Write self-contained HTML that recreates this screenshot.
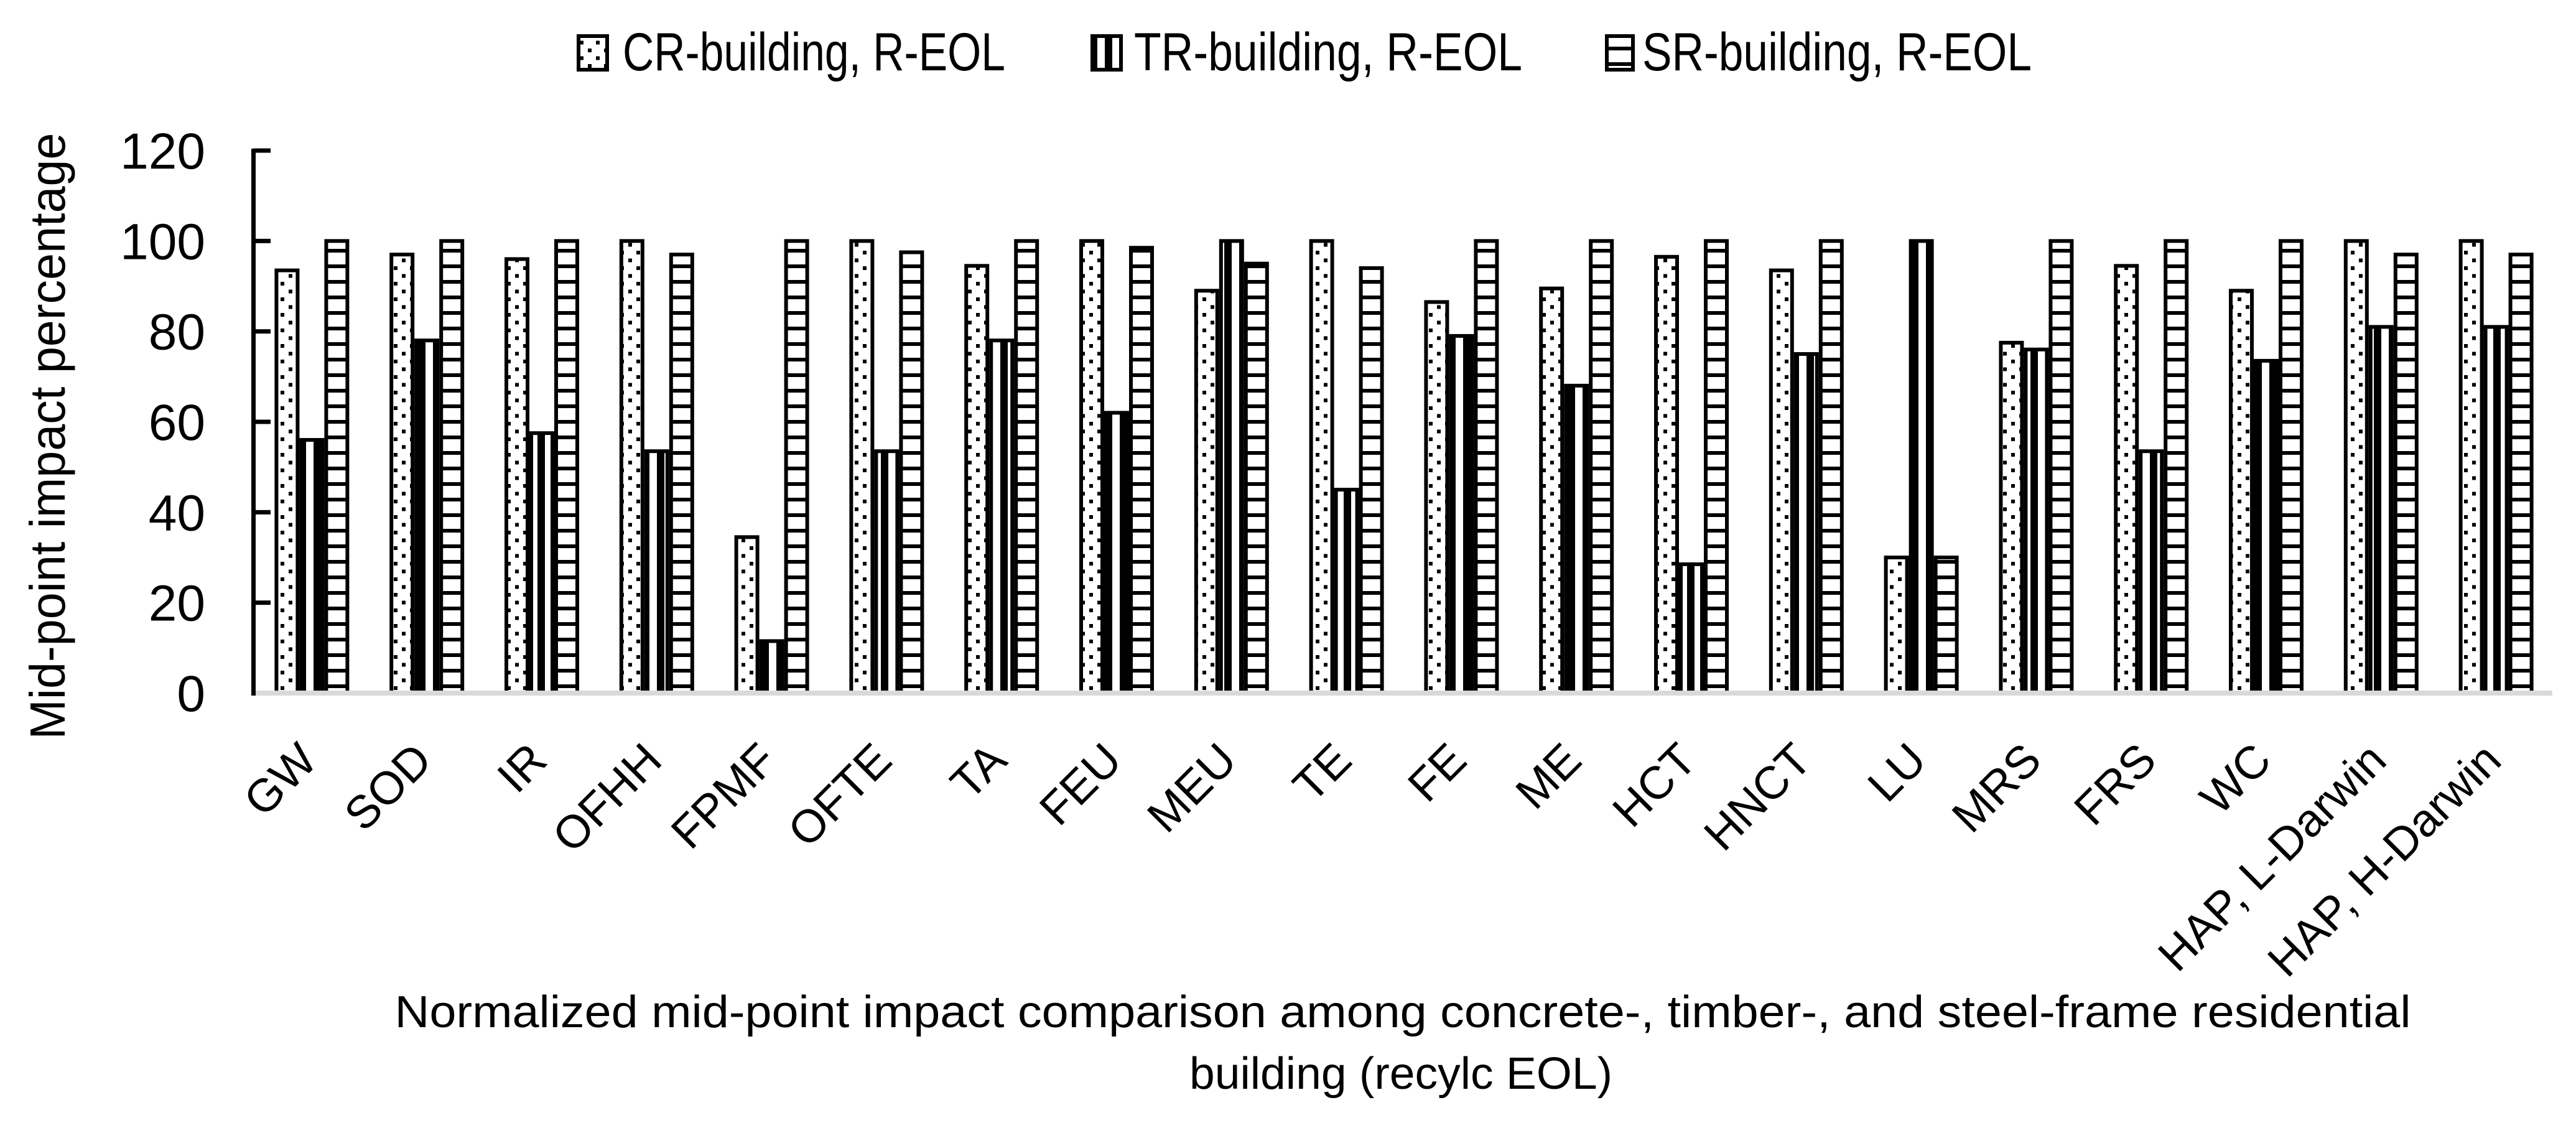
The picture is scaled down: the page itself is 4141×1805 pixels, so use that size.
<!DOCTYPE html>
<html><head><meta charset="utf-8"><style>
html,body{margin:0;padding:0;background:#fff;}
svg{display:block;}
text{font-family:"Liberation Sans",sans-serif;fill:#000;}
</style></head><body>
<svg id="chart" xmlns="http://www.w3.org/2000/svg" width="4141" height="1805" viewBox="0 0 4141 1805">
<defs>
<pattern id="pDots" patternUnits="userSpaceOnUse" width="26" height="25"><rect width="26" height="25" fill="#fff"/><rect x="9" y="3" width="6" height="6" fill="#000"/><rect x="22" y="15.5" width="6" height="6" fill="#000"/><rect x="-4" y="15.5" width="6" height="6" fill="#000"/></pattern>
<pattern id="pVert" patternUnits="userSpaceOnUse" width="24" height="24"><rect width="24" height="24" fill="#fff"/><rect x="0" y="0" width="12" height="24" fill="#000"/></pattern>
<pattern id="pHorz" patternUnits="userSpaceOnUse" width="24" height="25"><rect width="24" height="25" fill="#fff"/><rect x="0" y="0" width="24" height="6" fill="#000"/></pattern>
</defs>
<g id="legend">
 <g><rect x="930" y="58" width="46" height="54" fill="url(#pDots)" stroke="#000" stroke-width="6"/><text x="1001" y="113" font-size="86" textLength="615" lengthAdjust="spacingAndGlyphs">CR-building, R-EOL</text></g>
 <g><rect x="1756" y="58" width="46" height="54" fill="url(#pVert)" stroke="#000" stroke-width="6"/><text x="1823" y="113" font-size="86" textLength="624" lengthAdjust="spacingAndGlyphs">TR-building, R-EOL</text></g>
 <g><rect x="2583" y="58" width="42" height="54" fill="url(#pHorz)" stroke="#000" stroke-width="6"/><text x="2640" y="113" font-size="86" textLength="626" lengthAdjust="spacingAndGlyphs">SR-building, R-EOL</text></g>
</g>
<text transform="translate(104,701) rotate(-90)" text-anchor="middle" font-size="80" textLength="975" lengthAdjust="spacingAndGlyphs">Mid-point impact percentage</text>
<text x="2255" y="1651" text-anchor="middle" font-size="72" textLength="3241" lengthAdjust="spacingAndGlyphs">Normalized mid-point impact comparison among concrete-, timber-, and steel-frame residential</text>
<text x="2252" y="1750" text-anchor="middle" font-size="72" textLength="680" lengthAdjust="spacingAndGlyphs">building (recylc EOL)</text>
<g id="bars"></g>
<g id="axes"></g>
</svg>
<script>
const categories=["GW","SOD","IR","OFHH","FPMF","OFTE","TA","FEU","MEU","TE","FE","ME","HCT","HNCT","LU","MRS","FRS","WC","HAP, L-Darwin","HAP, H-Darwin"];
const crValues=[93.5,97,96,100,34.5,100,94.5,100,89,100,86.5,89.5,96.5,93.5,30,77.5,94.5,89,100,100];
const trValues=[56,78,57.5,53.5,11.5,53.5,78,62,100,45,79,68,28.5,75,100,76,53.5,73.5,81,81];
const srValues=[100,100,100,97,100,97.5,100,98.5,95,94,100,100,100,100,30,100,100,100,97,97];
const yTicks=[0,20,40,60,80,100,120];
const seriesNames=["cr","tr","sr"];

const NS="http://www.w3.org/2000/svg";
const X0=407,X1=4103,Y0=1114,Y120=242;
const band=(X1-X0)/categories.length;
function xCenter(i){return X0+band*(i+0.5);}
function yScale(v){return Y0-(Y0-Y120)*v/120;}
const fills=["url(#pDots)","url(#pVert)","url(#pHorz)"];
const series=[crValues,trValues,srValues];
const bw=40;
const barsG=document.getElementById('bars');
categories.forEach((c,i)=>{
  series.forEach((vals,s)=>{
    const x=xCenter(i)+(s-1.5)*bw+2;
    const y=yScale(vals[i]);
    const r=document.createElementNS(NS,'rect');
    r.setAttribute('x',x+3);r.setAttribute('y',y);
    r.setAttribute('width',bw-6);r.setAttribute('height',Math.max(0,Y0-y));
    r.setAttribute('fill',fills[s]);r.setAttribute('stroke','#000');r.setAttribute('stroke-width','6');
    
    
    barsG.appendChild(r);
  });
});
const ax=document.getElementById('axes');
function el(tag,attrs){const e=document.createElementNS(NS,tag);for(const k in attrs)e.setAttribute(k,attrs[k]);return e;}
const base=el('rect',{x:X0,y:Y0-4,width:X1-X0,height:8,fill:'#d9d9d9'});


ax.appendChild(base);
const yl=el('rect',{x:X0-3,y:Y120-3,width:7,height:Y0-Y120+7,fill:'#000'});


ax.appendChild(yl);
yTicks.forEach(t=>{
  const y=yScale(t);
  if(t>0){
    const tk=el('rect',{x:X0,y:y-3.5,width:28,height:7,fill:'#000'});
    
    
    ax.appendChild(tk);
  }
  const tx=el('text',{x:330,y:y+29,'text-anchor':'end','font-size':82});
  tx.textContent=String(t);
  
  
  ax.appendChild(tx);
});
categories.forEach((c,i)=>{
  const cx=xCenter(i)+14,cy=1226;
  const tx=el('text',{transform:'translate('+cx+','+cy+') rotate(-45)','text-anchor':'end','font-size':74});
  tx.textContent=c;
  
  
  ax.appendChild(tx);
});
</script>
</body></html>
